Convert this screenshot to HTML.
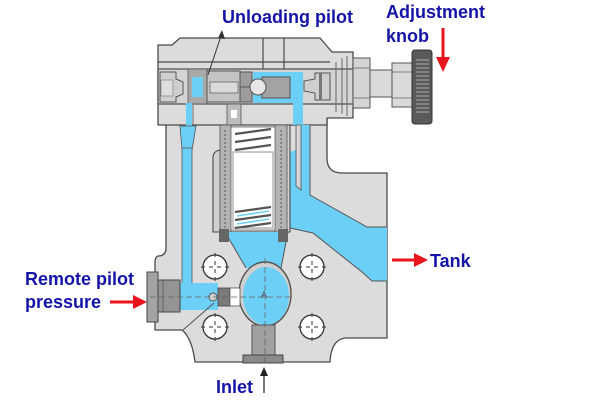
<!DOCTYPE html>
<html><head><meta charset="utf-8"><style>
html,body{margin:0;padding:0;background:#fff;}
svg{display:block;}
text{font-family:"Liberation Sans",Arial,sans-serif;font-weight:bold;font-size:18px;fill:#1414a8;}
</style></head><body>
<svg width="600" height="400" viewBox="0 0 600 400" xmlns="http://www.w3.org/2000/svg">
<rect width="600" height="400" fill="#fff"/>

<!-- lower body -->
<path d="M166,118 L166,248 Q166,256 158,256 Q155,257 155,262 L155,330 L182,330 Q192,338 195,362 L330,362 Q331,340 345,338 L387,338 L387,173 L342,173 Q327,173 327,158 L327,118 Z" fill="#dcdcdc" stroke="#4a4a4a" stroke-width="1.3"/>

<!-- upper housing -->
<path d="M158,45 L172,45 L180,38 L320,38 L332,52 L353,52 L353,118 L327,118 L327,125 L158,125 Z" fill="#dcdcdc" stroke="#4a4a4a" stroke-width="1.3"/>
<line x1="158" y1="62" x2="330" y2="62" stroke="#4a4a4a" stroke-width="1.2"/>
<line x1="263" y1="38" x2="263" y2="70" stroke="#4a4a4a" stroke-width="1.2"/>
<line x1="284" y1="38" x2="284" y2="70" stroke="#4a4a4a" stroke-width="1.2"/>
<line x1="193" y1="105" x2="193" y2="125" stroke="#555" stroke-width="0.8"/>

<!-- bore -->
<rect x="158" y="69" width="195" height="35" fill="#d4d4d4" stroke="#4a4a4a" stroke-width="1.2"/>
<!-- left plug -->
<path d="M160,72 L176,72 L176,79 L183,82 L183,94 L176,97 L176,102 L160,102 Z" fill="#cfcfcf" stroke="#555" stroke-width="1"/>
<rect x="161" y="80" width="12" height="16" fill="#dedede" stroke="#777" stroke-width="0.6"/>
<rect x="188" y="69" width="19" height="35" fill="#a9a9a9" stroke="#555" stroke-width="0.8"/>
<rect x="192" y="77" width="11" height="20" fill="#6ccff5"/>
<!-- spool -->
<rect x="207" y="71" width="33" height="31" fill="#c4c4c4" stroke="#555" stroke-width="1"/>
<rect x="210" y="82" width="28" height="11" fill="#dadada" stroke="#666" stroke-width="0.8"/>
<rect x="240" y="72" width="12" height="15" fill="#9d9d9d" stroke="#555" stroke-width="1"/>
<rect x="240" y="87" width="12" height="15" fill="#9d9d9d" stroke="#555" stroke-width="1"/>
<!-- central blue -->
<rect x="253" y="72" width="50" height="31" fill="#6ccff5"/>
<rect x="293" y="100" width="10" height="25" fill="#6ccff5"/>
<!-- poppet -->
<path d="M262,77 L290,77 L290,98 L262,98 Z" fill="#a3a3a3" stroke="#555" stroke-width="1"/>
<circle cx="258" cy="87" r="8" fill="#e6e6e6" stroke="#555" stroke-width="1"/>
<!-- right plug -->
<path d="M315,73 L330,73 L330,100 L315,100 L315,93 L304,91 L304,81 L315,79 Z" fill="#cfcfcf" stroke="#555" stroke-width="1"/>
<rect x="319" y="73" width="3" height="27" fill="#777"/>
<line x1="336" y1="62" x2="336" y2="112" stroke="#666" stroke-width="1"/>
<line x1="342" y1="58" x2="342" y2="114" stroke="#666" stroke-width="1"/>
<line x1="347" y1="56" x2="347" y2="116" stroke="#666" stroke-width="1"/>

<!-- orifice piece -->
<rect x="227" y="104" width="14" height="21" fill="#bdbdbd" stroke="#555" stroke-width="0.8"/>
<rect x="231" y="110" width="6" height="8" fill="#fff"/>

<!-- left channel -->
<rect x="186" y="103" width="6" height="24" fill="#6ccff5"/>
<polygon points="180,126 196,126 192,150 182,150" fill="#6ccff5" stroke="#555" stroke-width="0.8"/>
<rect x="182" y="148" width="10" height="137" fill="#6ccff5" stroke="#555" stroke-width="0.8"/>
<rect x="180" y="283" width="38" height="27" fill="#6ccff5"/>

<!-- tank passage -->
<polygon points="290,152 296,150 296,125 310,125 310,195 367,227 387,227 387,281 372,281 362,272 313,233 290,228" fill="#6ccff5"/>
<polygon points="296,125 301,125 301,190 296,186" fill="#d4d4d4" stroke="#555" stroke-width="0.8"/>
<polyline points="310,125 310,195 367,227 387,227" fill="none" stroke="#555" stroke-width="1"/>
<polyline points="387,281 372,281 362,272 313,233 290,228" fill="none" stroke="#555" stroke-width="1"/>

<!-- spring chamber -->
<path d="M213,232 L213,158 Q213,150 222,150 L222,125 L290,125 L290,232 Z" fill="#d0d0d0" stroke="#4a4a4a" stroke-width="1.1"/>
<rect x="220" y="125" width="11" height="107" fill="#b4b4b4" stroke="#555" stroke-width="0.8"/>
<rect x="275" y="125" width="12" height="107" fill="#b4b4b4" stroke="#555" stroke-width="0.8"/>
<line x1="225" y1="130" x2="225" y2="228" stroke="#555" stroke-width="1" stroke-dasharray="2 2"/>
<line x1="281" y1="130" x2="281" y2="228" stroke="#555" stroke-width="1" stroke-dasharray="2 2"/>
<rect x="231" y="127" width="44" height="103" fill="#fff" stroke="#666" stroke-width="0.8"/>
<rect x="233" y="152" width="40" height="76" fill="#fff" stroke="#777" stroke-width="0.8"/>
<g stroke="#555" stroke-width="2.2">
<line x1="235" y1="134" x2="271" y2="129"/>
<line x1="235" y1="142" x2="271" y2="137"/>
<line x1="235" y1="150" x2="271" y2="145"/>
<line x1="235" y1="212" x2="271" y2="207"/>
<line x1="235" y1="220" x2="271" y2="215"/>
<line x1="235" y1="228" x2="271" y2="223"/>
</g>
<g stroke="#6ccff5" stroke-width="1.5">
<line x1="237" y1="216" x2="269" y2="211"/>
<line x1="237" y1="224" x2="269" y2="219"/>
</g>

<!-- lower blue -->
<polygon points="225,232 288,232 281,268 246,268" fill="#6ccff5"/>
<line x1="225" y1="232" x2="246" y2="268" stroke="#555" stroke-width="1"/>
<line x1="288" y1="232" x2="281" y2="268" stroke="#555" stroke-width="1"/>
<rect x="219" y="229" width="10" height="13" fill="#666"/>
<rect x="278" y="229" width="10" height="13" fill="#666"/>
<ellipse cx="265" cy="294" rx="26" ry="32" fill="#cfcfcf" stroke="#555" stroke-width="1.4"/>
<ellipse cx="266" cy="296" rx="23" ry="29" fill="#6ccff5"/>
<text x="261" y="298" style="font-size:9px;font-weight:normal;fill:#444">A</text>

<!-- inlet pipe -->
<rect x="252" y="325" width="23" height="30" fill="#a0a0a0" stroke="#555" stroke-width="1"/>
<rect x="243" y="355" width="40" height="8" fill="#8a8a8a" stroke="#444" stroke-width="1"/>

<!-- pilot port -->
<rect x="147" y="272" width="11" height="50" fill="#a3a3a3" stroke="#444" stroke-width="1"/>
<rect x="158" y="280" width="22" height="32" fill="#949494" stroke="#444" stroke-width="1"/>
<line x1="163" y1="280" x2="163" y2="312" stroke="#555" stroke-width="0.8"/>
<rect x="218" y="288" width="12" height="18" fill="#7a7a7a" stroke="#444" stroke-width="0.8"/>
<rect x="230" y="288" width="10" height="18" fill="#fff" stroke="#555" stroke-width="0.8"/>
<circle cx="213" cy="297" r="4" fill="#cfcfcf" stroke="#555" stroke-width="1"/>
<line x1="183" y1="330" x2="214" y2="303" stroke="#555" stroke-width="1"/>

<!-- dashed centerlines -->
<line x1="150" y1="297" x2="292" y2="297" stroke="#666" stroke-width="0.8" stroke-dasharray="6 3"/>
<line x1="265" y1="258" x2="265" y2="366" stroke="#666" stroke-width="0.8" stroke-dasharray="6 3"/>

<!-- bolt holes -->
<g fill="#fff" stroke="#333" stroke-width="1.3">
<circle cx="215" cy="267" r="12"/><circle cx="312" cy="267" r="12"/>
<circle cx="215" cy="327" r="12"/><circle cx="312" cy="327" r="12"/>
</g>
<g stroke="#333" stroke-width="1">
<path d="M209,267h4M217,267h4M215,261v4M215,269v4M201,267h4M225,267h4M215,253v4M215,277v4"/>
<path d="M306,267h4M314,267h4M312,261v4M312,269v4M298,267h4M322,267h4M312,253v4M312,277v4"/>
<path d="M209,327h4M217,327h4M215,321v4M215,329v4M201,327h4M225,327h4M215,313v4M215,337v4"/>
<path d="M306,327h4M314,327h4M312,321v4M312,329v4M298,327h4M322,327h4M312,313v4M312,337v4"/>
</g>

<!-- nut, stem, coupling, knob -->
<rect x="353" y="58" width="17" height="50" fill="#d4d4d4" stroke="#555" stroke-width="1"/>
<line x1="353" y1="68" x2="370" y2="68" stroke="#666" stroke-width="0.8"/>
<line x1="353" y1="98" x2="370" y2="98" stroke="#666" stroke-width="0.8"/>
<rect x="370" y="70" width="22" height="27" fill="#dadada" stroke="#555" stroke-width="1"/>
<rect x="392" y="63" width="20" height="44" fill="#dadada" stroke="#555" stroke-width="1"/>
<line x1="392" y1="72" x2="412" y2="72" stroke="#666" stroke-width="0.8"/>
<line x1="392" y1="98" x2="412" y2="98" stroke="#666" stroke-width="0.8"/>
<rect x="412" y="50" width="20" height="74" rx="3" fill="#5a5a5a" stroke="#333" stroke-width="1"/>
<g stroke="#b8b8b8" stroke-width="0.9">
<line x1="416" y1="60" x2="429" y2="60"/><line x1="416" y1="64" x2="429" y2="64"/>
<line x1="416" y1="68" x2="429" y2="68"/><line x1="416" y1="72" x2="429" y2="72"/>
<line x1="416" y1="76" x2="429" y2="76"/><line x1="416" y1="80" x2="429" y2="80"/>
<line x1="416" y1="84" x2="429" y2="84"/><line x1="416" y1="88" x2="429" y2="88"/>
<line x1="416" y1="92" x2="429" y2="92"/><line x1="416" y1="96" x2="429" y2="96"/>
<line x1="416" y1="100" x2="429" y2="100"/><line x1="416" y1="104" x2="429" y2="104"/>
<line x1="416" y1="108" x2="429" y2="108"/><line x1="416" y1="112" x2="429" y2="112"/>
</g>

<!-- labels -->
<text x="222" y="23">Unloading pilot</text>
<line x1="208" y1="75" x2="222" y2="33" stroke="#333" stroke-width="1"/>
<polygon points="222,30 218,38 225,39" fill="#333"/>

<text x="386" y="18">Adjustment</text>
<text x="386" y="42">knob</text>
<line x1="443" y1="28" x2="443" y2="60" stroke="#e8141e" stroke-width="3"/>
<polygon points="436,57 450,57 443,72" fill="#e8141e"/>

<text x="25" y="285">Remote pilot</text>
<text x="25" y="308">pressure</text>
<line x1="110" y1="302" x2="135" y2="302" stroke="#e8141e" stroke-width="3"/>
<polygon points="133,295 133,309 147,302" fill="#e8141e"/>

<text x="430" y="267">Tank</text>
<line x1="392" y1="260" x2="416" y2="260" stroke="#e8141e" stroke-width="3"/>
<polygon points="414,253 414,267 428,260" fill="#e8141e"/>

<text x="216" y="393">Inlet</text>
<line x1="264" y1="393" x2="264" y2="373" stroke="#222" stroke-width="1.2"/>
<polygon points="260,376 268,376 264,367" fill="#222"/>
</svg>
</body></html>
